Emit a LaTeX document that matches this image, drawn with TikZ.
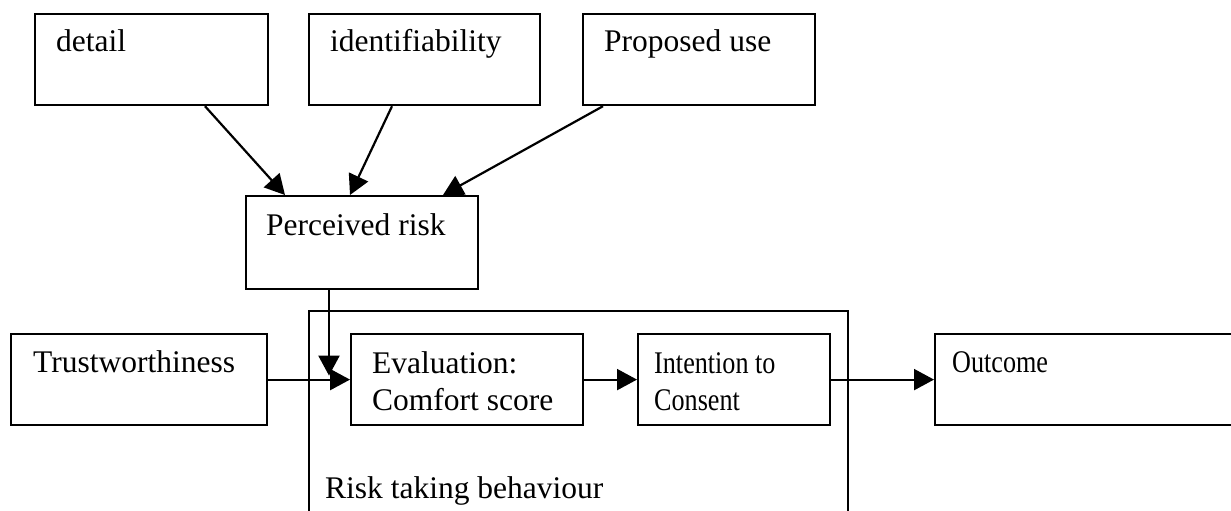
\documentclass[tikz,border=0pt]{standalone}
\usepackage{fontspec}
\setmainfont{Liberation Serif}
\usetikzlibrary{arrows.meta,calc}
\newcommand\narrowtext[1]{\scalebox{0.83}[1]{#1}}
\begin{document}
\begin{tikzpicture}[x=1pt,y=-1pt,
  font=\fontsize{31.5}{37}\selectfont,
  box/.style={draw, line width=2.2pt, inner sep=0pt, anchor=north west},
  txt/.style={inner sep=0pt, anchor=base west, align=left},
  arr/.style={line width=2.2pt, -{Triangle[length=20pt,width=21pt]}}]
\useasboundingbox (0,0) rectangle (1231,511);
\clip (0,0) rectangle (1231,511);
% boxes
\node[box, minimum width=233pt, minimum height=91pt] (detail) at (34,13) {};
\node[box, minimum width=231pt, minimum height=91pt] (ident) at (308,13) {};
\node[box, minimum width=232pt, minimum height=91pt] (prop) at (582,13) {};
\node[box, minimum width=232pt, minimum height=93pt] (risk) at (245,195) {};
\node[box, minimum width=539pt, minimum height=260pt] (rtb) at (308,310) {};
\node[box, minimum width=256pt, minimum height=91pt] (trust) at (10,333) {};
\node[box, minimum width=232pt, minimum height=91pt] (eval) at (350,333) {};
\node[box, minimum width=192pt, minimum height=91pt] (intent) at (637,333) {};
\node[box, minimum width=330pt, minimum height=91pt] (outcome) at (934,333) {};
% texts
\node[txt] (detailt) at ($(detail.north west)+(22,39)$) {detail};
\node[txt] (identt) at ($(ident.north west)+(22,39)$) {identifiability};
\node[txt] (propt) at ($(prop.north west)+(22,39)$) {Proposed use};
\node[txt] (riskt) at ($(risk.north west)+(21,40)$) {Perceived risk};
\node[txt] (trustt) at ($(trust.north west)+(23,39)$) {Trustworthiness};
\node[txt] (evalt) at ($(eval.north west)+(22,77)$) {Evaluation:\\Comfort score};
\node[txt] (intentt) at ($(intent.north west)+(17,77)$) {\narrowtext{Intention to}\\\narrowtext{Consent}};
\node[txt] (outcomet) at ($(outcome.north west)+(18,39)$) {\narrowtext{Outcome}};
\node[txt] (rtbt) at (325,498) {Risk taking behaviour};
% connectors
\draw[arr] ($(detail.south west)+(171,0)$) -- ($(risk.north west)+(40,0)$);
\draw[arr] ($(ident.south west)+(84,0)$) -- ($(risk.north west)+(105,0)$);
\draw[arr] ($(prop.south west)+(21,0)$) -- ($(risk.north west)+(198,0)$);
\draw[arr] ($(risk.south west)+(84,0)$) -- ($(eval.west)+(-21,-4)$);
\draw[arr] (trust.east) -- (eval.west);
\draw[arr] (eval.east) -- (intent.west);
\draw[arr] (intent.east) -- (outcome.west);
\end{tikzpicture}
\end{document}
